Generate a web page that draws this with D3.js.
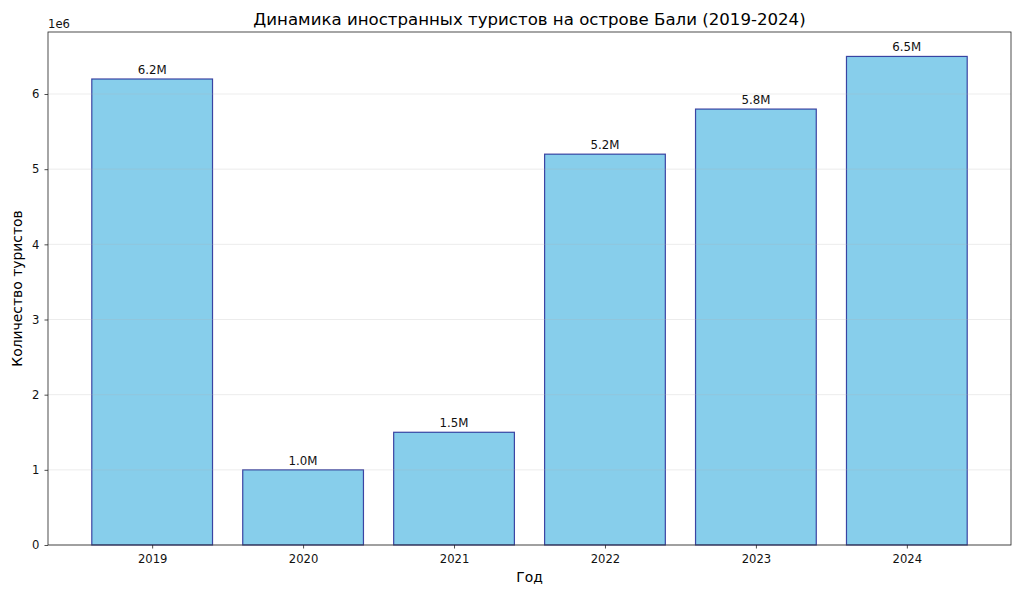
<!DOCTYPE html>
<html><head><meta charset="utf-8">
<script src="https://cdn.jsdelivr.net/npm/d3@7"></script>
<style>body{margin:0;background:#fff}svg{display:block;font-family:"DejaVu Sans",sans-serif}</style>
</head><body>
<svg id="c" width="1024" height="597"></svg>
<script>
const years = ["2019","2020","2021","2022","2023","2024"];
const tourists = [6200000,1000000,1500000,5200000,5800000,6500000];
const barLabels = ["6.2M","1.0M","1.5M","5.2M","5.8M","6.5M"];
const yTicks = [0,1,2,3,4,5,6];

const svg = d3.select("#c");
const L=48,R=1011,T=32,B=545;
const idx = years.map((d,i)=>i);
const x = d3.scaleLinear().domain([-0.69,5.69]).range([L,R]);
const y = d3.scaleLinear().domain([0,6825000]).range([B,T]);
const bw = x(0.8)-x(0);

// bars
svg.append("g").selectAll("rect").data(tourists).join("rect")
  .attr("x",(d,i)=>x(i-0.4)).attr("y",d=>y(d))
  .attr("width",bw).attr("height",d=>B-y(d))
  .attr("fill","#87CEEB").attr("stroke","navy").attr("stroke-opacity",0.7).attr("stroke-width",1.2);

// grid
svg.append("g").selectAll("line").data(yTicks).join("line")
  .attr("x1",L).attr("x2",R).attr("y1",d=>y(d*1e6)).attr("y2",d=>y(d*1e6))
  .attr("stroke","#b0b0b0").attr("stroke-opacity",0.3).attr("stroke-width",0.8);

// bar labels
svg.append("g").selectAll("text").data(tourists).join("text")
  .attr("x",(d,i)=>x(i)).attr("y",d=>y(d)-5)
  .attr("text-anchor","middle").attr("font-size",11.8).attr("fill","#111")
  .text((d,i)=>barLabels[i]);

// axes
const xAxis = d3.axisBottom(x).tickValues(idx).tickFormat(i=>years[i]).tickSize(3.5).tickPadding(6);
const gx = svg.append("g").attr("transform",`translate(0,${B})`).call(xAxis);
const yAxis = d3.axisLeft(y).tickValues(yTicks.map(v=>v*1e6)).tickFormat(v=>String(v/1e6)).tickSize(3.5).tickPadding(5);
const gy = svg.append("g").attr("transform",`translate(${L},0)`).call(yAxis);
[gx,gy].forEach(g=>{g.select(".domain").remove();g.selectAll("text").attr("font-size",11.6).attr("fill","#111").attr("font-family","DejaVu Sans");g.selectAll("line").attr("stroke","#222").attr("stroke-width",0.8);});

// frame
svg.append("rect").attr("x",L).attr("y",T).attr("width",R-L).attr("height",B-T)
  .attr("fill","none").attr("stroke","#222").attr("stroke-width",0.8);

svg.append("text").attr("x",L).attr("y",T-4).attr("font-size",11.6).attr("fill","#111").text("1e6");
svg.append("text").attr("x",(L+R)/2).attr("y",T-7).attr("text-anchor","middle").attr("font-size",16.6).attr("fill","#000")
  .text("Динамика иностранных туристов на острове Бали (2019-2024)");
svg.append("text").attr("x",(L+R)/2).attr("y",582).attr("text-anchor","middle").attr("font-size",13.9).attr("fill","#000").text("Год");
svg.append("text").attr("transform",`translate(22,${(T+B)/2}) rotate(-90)`).attr("text-anchor","middle").attr("font-size",13.9).attr("fill","#000").text("Количество туристов");
</script>
</body></html>
